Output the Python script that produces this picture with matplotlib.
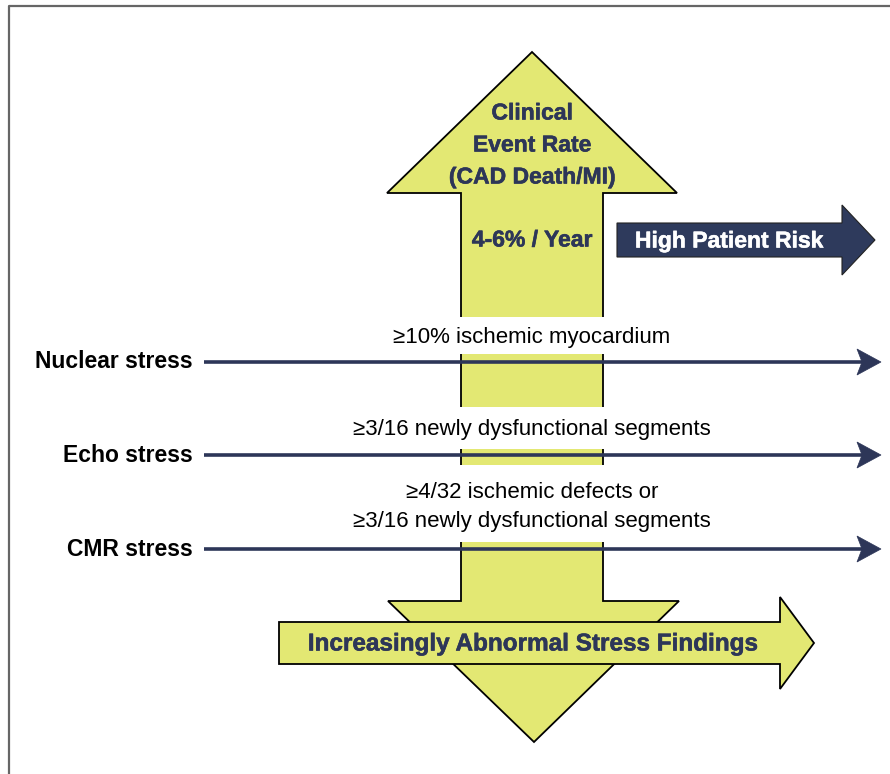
import matplotlib.pyplot as plt
import matplotlib.patheffects as pe
from matplotlib.patches import Polygon, Rectangle

# text content
arrow_lines = ["Clinical", "Event Rate", "(CAD Death/MI)"]
rate_text = "4-6% / Year"
risk_text = "High Patient Risk"
bottom_text = "Increasingly Abnormal Stress Findings"
stress_labels = ["Nuclear stress", "Echo stress", "CMR stress"]
criteria = [
    ["\u226510% ischemic myocardium"],
    ["\u22653/16 newly dysfunctional segments"],
    ["\u22654/32 ischemic defects or", "\u22653/16 newly dysfunctional segments"],
]

yellow = "#e3e873"
navy = "#2d3658"

fig = plt.figure(figsize=(8.9, 7.74), dpi=100)
ax = fig.add_axes([0, 0, 1, 1])
ax.set_xlim(0, 890)
ax.set_ylim(774, 0)
ax.axis("off")

# frame (top and left only)
ax.plot([9, 9, 890], [774, 6, 6], color="#666666", lw=1.6, solid_capstyle="butt")

# big vertical double arrow
big = [(532, 52), (677, 193), (603, 193), (603, 601), (679, 601), (534, 742),
       (388, 601), (461, 601), (461, 193), (387, 193)]
ax.add_patch(Polygon(big, closed=True, fc=yellow, ec="black", lw=1.3, zorder=1))

# white gaps in the shaft where the criteria text sits
for y0, y1 in [(317, 354), (407, 449), (465, 542)]:
    ax.add_patch(Rectangle((458, y0), 148, y1 - y0, fc="white", ec="none", zorder=2))

bold = ["Liberation Sans", "DejaVu Sans"]
plain = ["Liberation Sans", "DejaVu Sans"]


def heavy(c):
    return [pe.withStroke(linewidth=0.4, foreground=c)]


for txt, y in zip(arrow_lines, [113, 145, 177]):
    ax.text(532, y, txt, ha="center", va="center", fontsize=16.5, fontweight="bold",
            color=navy, family=bold, zorder=5, path_effects=heavy(navy))
ax.text(532, 240, rate_text, ha="center", va="center", fontsize=16.5, fontweight="bold",
        color=navy, family=bold, zorder=5, path_effects=heavy(navy))

# High patient risk arrow
risk = [(617, 223), (842, 223), (842, 205), (875, 240), (842, 275), (842, 257), (617, 257)]
ax.add_patch(Polygon(risk, closed=True, fc="#2e3a5c", ec="#222222", lw=0.8, zorder=3))
ax.text(729, 241, risk_text, ha="center", va="center", fontsize=16.5, fontweight="bold",
        color="white", family=bold, zorder=5, path_effects=heavy("white"))

# stress rows
row_y = [362, 455, 549]
text_y = [[337], [429], [492, 521]]
for lab, y, crit, ty in zip(stress_labels, row_y, criteria, text_y):
    ax.text(193, y, lab, ha="right", va="center", fontsize=16.5, fontweight="bold",
            color="black", family=bold, zorder=5)
    ax.plot([204, 862], [y, y], color=navy, lw=2.6, solid_capstyle="butt", zorder=4)
    ax.add_patch(Polygon([(857, y - 13), (881, y), (857, y + 13), (862, y)], closed=True,
                         fc=navy, ec=navy, lw=0.5, zorder=4))
    for c, yy in zip(crit, ty):
        ax.text(532, yy, c, ha="center", va="center", fontsize=16, color="black",
                family=plain, zorder=5)

# bottom horizontal arrow
horiz = [(279, 622), (780, 622), (780, 597), (814, 643), (780, 689), (780, 664), (279, 664)]
ax.add_patch(Polygon(horiz, closed=True, fc=yellow, ec="black", lw=1.3, zorder=3))
ax.text(533, 644, bottom_text, ha="center", va="center", fontsize=17.5, fontweight="bold",
        color=navy, family=bold, zorder=5, path_effects=heavy(navy))

fig.savefig("out.png", dpi=100)
